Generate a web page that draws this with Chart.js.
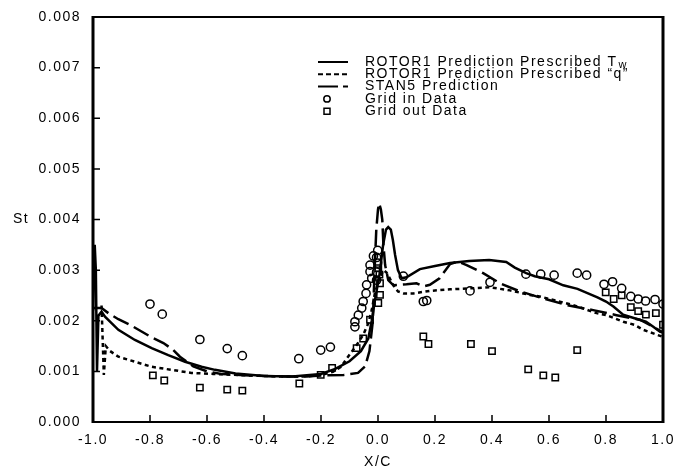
<!DOCTYPE html>
<html><head><meta charset="utf-8">
<script src="https://cdn.jsdelivr.net/npm/chart.js@4/dist/chart.umd.min.js"></script>
<style>html,body{margin:0;padding:0;background:#fff;} #wrap{position:relative;width:674px;height:471px;}</style>
</head><body><div id="wrap"><canvas id="c"></canvas></div>
<script>
// ---- data ----
const xTickLabels = ['-1.0','-0.8','-0.6','-0.4','-0.2','0.0','0.2','0.4','0.6','0.8','1.0'];
const yTickLabels = ['0.000','0.001','0.002','0.003','0.004','0.005','0.006','0.007','0.008'];

const rotorTwX = [-1.0,-0.994,-0.99,-0.986,-0.981,-0.97,-0.958,-0.911,-0.853,-0.794,-0.736,-0.677,-0.619,-0.572,-0.5,-0.4,-0.3,-0.2,-0.15,-0.1,-0.06,-0.034,-0.022,-0.011,0.005,0.018,0.028,0.036,0.045,0.052,0.06,0.07,0.083,0.1,0.147,0.2,0.253,0.32,0.39,0.45,0.48,0.52,0.55,0.6,0.65,0.7,0.77,0.8,0.826,0.86,0.9,0.94,0.966,0.99,1.0];
const rotorTwY = [0.0022,0.0035,0.0030,0.0010,0.0021,0.00218,0.00208,0.00182,0.00162,0.00146,0.00132,0.00119,0.00109,0.00103,0.00096,0.00091,0.0009,0.00095,0.00105,0.0012,0.0014,0.00165,0.002,0.0024,0.0029,0.0035,0.0038,0.00385,0.0038,0.0036,0.0033,0.003,0.00284,0.00286,0.00302,0.00308,0.00314,0.00318,0.0032,0.00316,0.00305,0.00294,0.00288,0.00282,0.0027,0.00263,0.00246,0.00238,0.00228,0.00212,0.00205,0.00198,0.00188,0.00178,0.00177];

const rotorQX = [-0.97,-0.962,-0.955,-0.94,-0.911,-0.853,-0.794,-0.724,-0.655,-0.578,-0.46,-0.344,-0.25,-0.2,-0.158,-0.13,-0.11,-0.075,-0.052,-0.034,-0.022,-0.011,0.005,0.02,0.03,0.04,0.054,0.07,0.09,0.124,0.182,0.253,0.323,0.393,0.463,0.533,0.567,0.65,0.685,0.767,0.802,0.861,0.9,0.931,0.966,1.0];
const rotorQY = [0.0023,0.00093,0.0015,0.0014,0.00129,0.00119,0.00109,0.00103,0.00097,0.00095,0.00092,0.0009,0.0009,0.00093,0.00099,0.00109,0.00125,0.00152,0.00172,0.00195,0.00221,0.00254,0.00285,0.003,0.00295,0.00285,0.0027,0.00258,0.00254,0.00254,0.00259,0.00262,0.00264,0.00266,0.0026,0.00251,0.00248,0.00236,0.00231,0.00215,0.00211,0.00198,0.00192,0.00182,0.00175,0.00168];

const stanX = [-1.0,-0.97,-0.946,-0.911,-0.87,-0.8,-0.753,-0.72,-0.695,-0.648,-0.6,-0.55,-0.45,-0.35,-0.25,-0.2,-0.12,-0.07,-0.045,-0.03,-0.018,-0.012,-0.006,0.0,0.004,0.01,0.015,0.019,0.025,0.036,0.054,0.1,0.135,0.16,0.182,0.216,0.253,0.28,0.311,0.369,0.428,0.498,0.58,0.662,0.755,0.837,0.919,0.966,1.0];
const stanY = [0.00225,0.00225,0.00215,0.00203,0.00192,0.00169,0.00156,0.00143,0.00129,0.0011,0.001,0.00095,0.00092,0.0009,0.0009,0.00092,0.00093,0.00097,0.0011,0.0014,0.002,0.003,0.0038,0.0042,0.00432,0.0042,0.004,0.0035,0.0031,0.0028,0.0027,0.00272,0.00274,0.00268,0.00271,0.00284,0.00312,0.00317,0.0031,0.00294,0.00274,0.00258,0.00244,0.00231,0.00221,0.00211,0.00202,0.00188,0.00177];

const gridInX = [-0.80,-0.757,-0.625,-0.529,-0.476,-0.278,-0.201,-0.167,-0.081,-0.081,-0.069,-0.057,-0.052,-0.042,-0.040,-0.022,-0.028,-0.028,-0.001,-0.016,-0.001,-0.005,-0.005,-0.005,0.089,0.159,0.171,0.323,0.393,0.519,0.571,0.618,0.699,0.732,0.793,0.823,0.855,0.887,0.913,0.939,0.972,1.0];
const gridInY = [0.00233,0.00213,0.00163,0.00145,0.00131,0.00125,0.00142,0.00148,0.00188,0.00198,0.00211,0.00225,0.00238,0.00254,0.00271,0.00284,0.00297,0.0031,0.00314,0.00328,0.00339,0.00325,0.00296,0.0028,0.00288,0.00238,0.0024,0.00259,0.00276,0.00292,0.00292,0.0029,0.00294,0.0029,0.00272,0.00277,0.00264,0.00248,0.00243,0.00239,0.00242,0.00233];

const gridOutX = [-0.79,-0.75,-0.625,-0.529,-0.476,-0.276,-0.201,-0.161,-0.075,-0.052,-0.028,0.001,0.007,0.007,0.005,0.001,0.159,0.177,0.326,0.40,0.527,0.58,0.622,0.699,0.799,0.827,0.855,0.887,0.913,0.94,0.975,1.0];
const gridOutY = [0.00092,0.00082,0.00068,0.00064,0.00062,0.00076,0.00093,0.00107,0.00146,0.00165,0.00202,0.00235,0.00251,0.00274,0.00291,0.00304,0.00169,0.00154,0.00154,0.0014,0.00104,0.00092,0.00088,0.00142,0.00256,0.00243,0.0025,0.00227,0.00219,0.00212,0.00215,0.00192];

const seriesNames = ['ROTOR1 Prediction Prescribed T', 'ROTOR1 Prediction Prescribed \u201Cq\u201D', 'STAN5 Prediction', 'Grid in Data', 'Grid out Data'];
const yAxisLabel = 'St';
const xAxisLabel = 'X/C';

// ---- build ----
const pts = (xs, ys) => xs.map((x, i) => ({x, y: ys[i]}));
const FONT = '"Liberation Sans", Arial, Helvetica, sans-serif';
const LS = '1.5px';
const DOT = [4, 3.5];
const DASH = [17, 6];

Chart.defaults.font.family = FONT;
Chart.defaults.font.size = 14;
Chart.defaults.color = '#000';

const spacingPlugin = {
  id: 'spacing',
  beforeLayout(chart) { chart.ctx.letterSpacing = LS; },
  beforeDraw(chart) { chart.ctx.letterSpacing = LS; }
};

const framePlugin = {
  id: 'frame',
  afterDraw(chart) {
    const {ctx, chartArea: a, scales: {x, y}} = chart;
    ctx.save();
    ctx.strokeStyle = '#000';
    ctx.lineCap = 'butt';
    ctx.lineWidth = 1.5;
    ctx.beginPath();
    xTickLabels.slice(1, -1).forEach(t => {
      const px = x.getPixelForValue(parseFloat(t));
      ctx.moveTo(px, a.bottom); ctx.lineTo(px, a.bottom - 7);
    });
    yTickLabels.slice(1, -1).forEach(t => {
      const py = y.getPixelForValue(parseFloat(t));
      ctx.moveTo(a.left, py); ctx.lineTo(a.left + 7, py);
    });
    ctx.stroke();
    ctx.lineWidth = 3;
    ctx.beginPath();
    ctx.moveTo(a.left, a.top - 1); ctx.lineTo(a.left, a.bottom + 1);
    ctx.moveTo(a.right, a.top - 1); ctx.lineTo(a.right, a.bottom + 1);
    ctx.stroke();
    ctx.lineWidth = 2;
    ctx.beginPath();
    ctx.moveTo(a.left, a.top); ctx.lineTo(a.right, a.top);
    ctx.moveTo(a.left, a.bottom); ctx.lineTo(a.right, a.bottom);
    ctx.stroke();
    // St label
    ctx.letterSpacing = LS;
    ctx.font = '14px ' + FONT;
    ctx.fillStyle = '#000';
    ctx.textBaseline = 'middle';
    ctx.textAlign = 'left';
    ctx.fillText(yAxisLabel, 13, y.getPixelForValue(0.004));
    ctx.restore();
  }
};

const legendPlugin = {
  id: 'customLegend',
  afterDraw(chart) {
    const {ctx, chartArea: a} = chart;
    ctx.save();
    ctx.letterSpacing = '1.5px';
    ctx.fillStyle = '#000';
    ctx.strokeStyle = '#000';
    ctx.textBaseline = 'middle';
    ctx.textAlign = 'left';
    const x0 = a.left + 225, x1 = a.left + 255, tx = a.left + 272;
    const y0 = a.top + 45, dy = 12.3;
    const styles = ['solid', 'dot', 'dash', 'circle', 'rect'];
    styles.forEach((s, i) => {
      const yy = y0 + i * dy;
      ctx.lineWidth = 2;
      if (s === 'solid' || s === 'dot' || s === 'dash') {
        ctx.setLineDash(s === 'solid' ? [] : (s === 'dot' ? [5, 3] : [20, 5]));
        ctx.beginPath(); ctx.moveTo(x0, yy); ctx.lineTo(x1, yy); ctx.stroke();
        ctx.setLineDash([]);
      } else {
        ctx.lineWidth = 1.5;
        ctx.beginPath();
        if (s === 'circle') ctx.arc(x0 + 9, yy, 3.2, 0, Math.PI * 2);
        else ctx.rect(x0 + 6, yy - 3, 6, 6);
        ctx.stroke();
      }
      ctx.font = '14px ' + FONT;
      ctx.fillText(seriesNames[i], tx, yy);
      if (i === 0) {
        const w = ctx.measureText(seriesNames[i]).width;
        ctx.font = '11px ' + FONT;
        ctx.fillText('w', tx + w + 1, yy + 3);
      }
    });
    ctx.restore();
  }
};

const lineDs = (label, xs, ys, dash) => ({
  label, data: pts(xs, ys), showLine: true, borderColor: '#000', backgroundColor: '#000',
  borderWidth: 2.5, borderDash: dash, pointRadius: 0, tension: 0, fill: false
});
const ptDs = (label, xs, ys, style, r) => ({
  label, data: pts(xs, ys), showLine: false, pointStyle: style, pointRadius: r,
  pointBorderColor: '#000', pointBackgroundColor: 'rgba(0,0,0,0)', pointBorderWidth: 1.5,
  borderColor: '#000', backgroundColor: 'rgba(0,0,0,0)'
});

new Chart(document.getElementById('c'), {
  type: 'scatter',
  data: {
    datasets: [
      ptDs(seriesNames[3], gridInX, gridInY, 'circle', 4.1),
      ptDs(seriesNames[4], gridOutX, gridOutY, 'rect', 4.5),
      lineDs(seriesNames[0] + 'w', rotorTwX, rotorTwY, []),
      lineDs(seriesNames[1], rotorQX, rotorQY, DOT),
      lineDs(seriesNames[2], stanX, stanY, DASH)
    ]
  },
  options: {
    responsive: true, maintainAspectRatio: false, animation: false,
    layout: {padding: {left: 0, top: 17, right: 11, bottom: 0}},
    plugins: {legend: {display: false}, tooltip: {enabled: false}},
    scales: {
      x: {
        type: 'linear', min: -1, max: 1,
        grid: {display: false, drawTicks: false}, border: {display: false},
        ticks: {stepSize: 0.2, autoSkip: false, maxRotation: 0, padding: 10,
          callback: (v, i) => xTickLabels[i]},
        title: {display: true, text: xAxisLabel, font: {size: 14}, padding: {top: 0, bottom: 0}},
        afterFit: (s) => { s.height = 49; s.paddingLeft = 0; s.paddingRight = 0; }
      },
      y: {
        min: 0, max: 0.008,
        grid: {display: false, drawTicks: false}, border: {display: false},
        ticks: {stepSize: 0.001, padding: 12, callback: (v, i) => yTickLabels[i]},
        afterFit: (s) => { s.width = 93; s.paddingTop = 0; s.paddingBottom = 0; }
      }
    }
  },
  plugins: [spacingPlugin, framePlugin, legendPlugin]
});
</script></body></html>
